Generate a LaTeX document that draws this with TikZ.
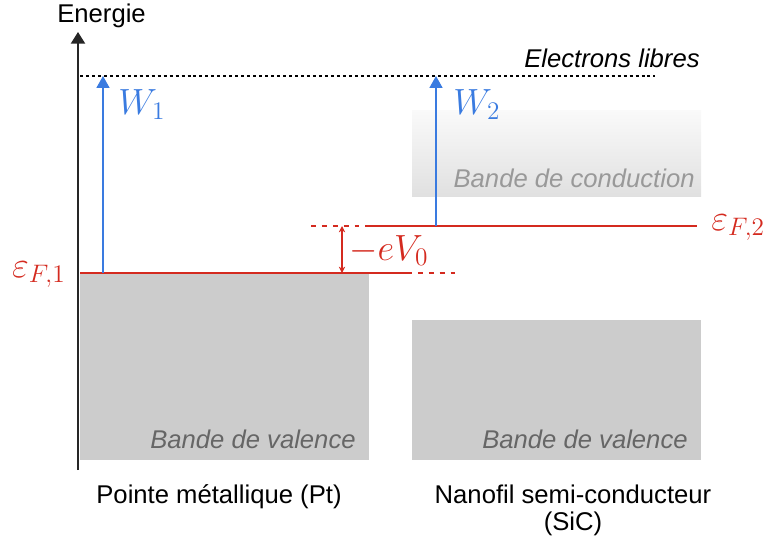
\documentclass[tikz,border=0pt]{standalone}
\usepackage[no-math]{fontspec}
\setmainfont{Liberation Sans}
\usepackage{amsmath,amssymb}
\usetikzlibrary{arrows.meta,calc}

\definecolor{fermired}{HTML}{D42A1F}
\definecolor{workblue}{HTML}{3A7BE0}

\newcommand{\figfont}{\fontsize{14.6}{15.5}\selectfont}
\newcommand{\lvlfont}{\fontsize{20}{24}\selectfont}

\tikzset{
  fermi/.style={fermired,line width=1.15pt},
  fermidot/.style={fermired,line width=1.15pt,dash pattern=on 2.8pt off 3.4pt},
  work/.style={workblue,line width=0.9pt,-{Triangle[length=6.8pt,width=7.4pt]}},
  bandlabel/.style={font=\figfont\itshape,anchor=base east,inner sep=0pt},
  lvl/.style={font=\lvlfont,inner sep=0pt},
}

\begin{document}
\begin{tikzpicture}[x=0.02cm,y=-0.02cm,>=Stealth,
    every node/.style={font=\figfont}]
  \useasboundingbox (0,0) rectangle (768,541);

  % bandes
  \shade[top color=black!2,bottom color=black!12] (412,110) rectangle (701,196);
  \fill[black!20] (80,273) rectangle (369,460);
  \fill[black!20] (412,320) rectangle (701,460);
  \node[bandlabel,black!40] (condlbl) at (695,187) {Bande de conduction};
  \node[bandlabel,black!60] (val1lbl) at (356,448) {Bande de valence};
  \node[bandlabel,black!60] (val2lbl) at (688,448) {Bande de valence};

  % axe
  \coordinate (axbot) at (78,470);
  \coordinate (axtop) at (78,32);
  \draw[line width=1pt,black!85,-{Triangle[length=6.6pt,width=8pt]}] (axbot) -- (axtop);
  \node[anchor=base west,inner sep=0pt] (energie) at (57,23) {Energie};

  % electrons libres
  \coordinate (vacL) at (80,76);
  \coordinate (vacR) at (655,76);
  \draw[line width=0.6pt,dash pattern=on 1.7pt off 1.7pt] (vacL) -- (vacR);
  \node[font=\figfont\itshape,anchor=base east,inner sep=0pt] (libres) at (700,67) {Electrons libres};

  % niveaux de Fermi
  \coordinate (f1a) at (80,273);
  \coordinate (f1b) at (407,273);
  \coordinate (f1c) at (456,273);
  \coordinate (f2a) at (311,226);
  \coordinate (f2b) at (370,226);
  \coordinate (f2c) at (697,226);
  \draw[fermi] (f1a) -- (f1b);
  \draw[fermidot] (f1b) -- (f1c);
  \draw[fermidot] (f2a) -- (f2b);
  \draw[fermi] (f2b) -- (f2c);
  \node[lvl,fermired,anchor=base east] (ef1) at (66,277) {$\varepsilon_{F,1}$};
  \node[lvl,fermired,anchor=base west] (ef2) at (711,230) {$\varepsilon_{F,2}$};

  % travaux de sortie
  \coordinate (w1bot) at (103,273);
  \coordinate (w1top) at (103,76);
  \coordinate (w2bot) at (436,226);
  \coordinate (w2top) at (436,76);
  \draw[work] (w1bot) -- (w1top);
  \draw[work] (w2bot) -- (w2top);
  \node[lvl,workblue,anchor=base west] (w1) at (118,114) {$W_1$};
  \node[lvl,workblue,anchor=base west] (w2) at (453,114) {$W_2$};

  % potentiel
  \coordinate (v0top) at (342,226);
  \coordinate (v0bot) at (342,273);
  \draw[fermired,line width=0.7pt,{Stealth[length=3.6pt,width=3.6pt]}-{Stealth[length=3.6pt,width=3.6pt]}] (v0top) -- (v0bot);
  \node[lvl,fermired,anchor=base west] (ev0) at (349,260) {$-eV_0$};

  % legendes
  \node[anchor=base] (pointe) at (219,503) {Pointe métallique (Pt)};
  \node[anchor=base,align=center] (nanofil) at (573,530) {Nanofil semi-conducteur\\[-0.5pt](SiC)};
\end{tikzpicture}
\end{document}
